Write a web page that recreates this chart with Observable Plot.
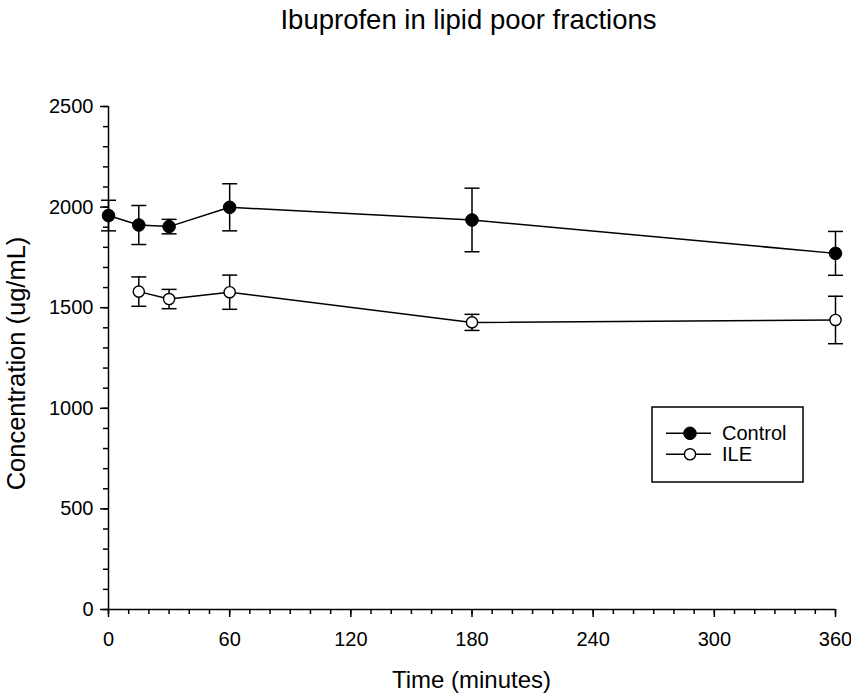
<!DOCTYPE html>
<html>
<head>
<meta charset="utf-8">
<script src="https://cdn.jsdelivr.net/npm/d3@7"></script>
<script src="https://cdn.jsdelivr.net/npm/@observablehq/plot@0.6"></script>
<style>
  body { margin: 0; background: #fff; font-family: "Liberation Sans", Arial, sans-serif; }
  #wrap { position: relative; width: 851px; height: 699px; background: #fff; }
  #title { position: relative; height: 45px; }
  #title span { position: absolute; left: 0; width: 937px; top: 7px; text-align: center;
    font-size: 27.5px; line-height: 26px; color: #000; white-space: nowrap; }
  #chart svg { display: block; }
</style>
</head>
<body>
<div id="wrap">
  <div id="title"><span>Ibuprofen in lipid poor fractions</span></div>
  <div id="chart"></div>
</div>
<script>
// ---- data ----
const controlTimes = [0, 15, 30, 60, 180, 360];
const controlMean  = [1958, 1911, 1903, 1999, 1936, 1770];
const controlErr   = [76, 97, 36, 117, 158, 109];

const ileTimes = [15, 30, 60, 180, 360];
const ileMean  = [1580, 1543, 1577, 1427, 1439];
const ileErr   = [73, 48, 85, 40, 118];

const xTicks = [0, 60, 120, 180, 240, 300, 360];
const xMinorTicks = d3.range(0, 361, 10);
const yTicks = [0, 500, 1000, 1500, 2000, 2500];
const yMinorTicks = d3.range(0, 2501, 100);

const xLabel = "Time (minutes)";
const yLabel = "Concentration (ug/mL)";
const seriesNames = ["Control", "ILE"];

// ---- build rows ----
const controlRows = controlTimes.map((t, i) => ({t, y: controlMean[i], lo: controlMean[i] - controlErr[i], hi: controlMean[i] + controlErr[i]}));
const ileRows = ileTimes.map((t, i) => ({t, y: ileMean[i], lo: ileMean[i] - ileErr[i], hi: ileMean[i] + ileErr[i]}));
const allRows = controlRows.concat(ileRows);

const capSymbol = { draw(ctx, size) { ctx.moveTo(-7.5, 0); ctx.lineTo(7.5, 0); } };

const W = 851, H = 654;
const plot = Plot.plot({
  width: W,
  height: H,
  marginTop: 61,
  marginBottom: 90,
  marginLeft: 108,
  marginRight: 16,
  style: { fontFamily: "Liberation Sans, Arial, sans-serif", fontSize: "20px", color: "black", background: "white", overflow: "visible" },
  x: { domain: [0, 360], label: null },
  y: { domain: [0, 2500], label: null },
  marks: [
    Plot.axisX({ ticks: xMinorTicks, tickSize: 5, tickFormat: () => "", label: null, strokeWidth: 1.5 }),
    Plot.axisX({ ticks: xTicks, tickSize: 8, tickPadding: 14, tickFormat: d => String(d), label: null, strokeWidth: 1.5, fontSize: 20 }),
    Plot.axisY({ ticks: yMinorTicks, tickSize: 5, tickFormat: () => "", label: null, strokeWidth: 1.5 }),
    Plot.axisY({ ticks: yTicks, tickSize: 8, tickPadding: 7, tickFormat: d => String(d), label: null, strokeWidth: 1.5, fontSize: 20 }),
    Plot.ruleY([0], { strokeWidth: 1.5 }),
    Plot.ruleX([0], { strokeWidth: 1.5 }),
    Plot.line(controlRows, { x: "t", y: "y", stroke: "black", strokeWidth: 1.5 }),
    Plot.line(ileRows, { x: "t", y: "y", stroke: "black", strokeWidth: 1.5 }),
    Plot.ruleX(allRows, { x: "t", y1: "lo", y2: "hi", stroke: "black", strokeWidth: 1.5 }),
    Plot.dot(allRows, { x: "t", y: "hi", symbol: capSymbol, fill: "none", stroke: "black", strokeWidth: 1.5 }),
    Plot.dot(allRows, { x: "t", y: "lo", symbol: capSymbol, fill: "none", stroke: "black", strokeWidth: 1.5 }),
    Plot.dot(controlRows, { x: "t", y: "y", r: 6.3, fill: "black", stroke: "black", strokeWidth: 1 }),
    Plot.dot(ileRows, { x: "t", y: "y", r: 5.6, fill: "white", stroke: "black", strokeWidth: 1.4 })
  ]
});
document.getElementById("chart").appendChild(plot);

// ---- axis titles and legend ----
const svg = d3.select(plot);
const xs = plot.scale("x"), ys = plot.scale("y");
const xMid = (xs.range[0] + xs.range[1]) / 2;
const yMid = (ys.range[0] + ys.range[1]) / 2;

svg.append("text")
  .attr("x", xMid).attr("y", ys.range[0] + 79)
  .attr("text-anchor", "middle")
  .attr("font-size", 24).attr("fill", "black")
  .text(xLabel);

svg.append("text")
  .attr("transform", `translate(25,${yMid + 6}) rotate(-90)`)
  .attr("text-anchor", "middle")
  .attr("font-size", 25.5).attr("fill", "black")
  .text(yLabel);

const lg = svg.append("g").attr("transform", "translate(652,362)");
lg.append("rect").attr("width", 151).attr("height", 75)
  .attr("fill", "white").attr("stroke", "black").attr("stroke-width", 1.5);
const legendStyles = [
  { fill: "black", r: 6.3, sw: 1 },
  { fill: "white", r: 5.6, sw: 1.4 }
];
seriesNames.forEach((name, i) => {
  const yy = 26.3 + i * 21;
  lg.append("line").attr("x1", 14).attr("x2", 59).attr("y1", yy).attr("y2", yy)
    .attr("stroke", "black").attr("stroke-width", 1.5);
  lg.append("circle").attr("cx", 38).attr("cy", yy).attr("r", legendStyles[i].r)
    .attr("fill", legendStyles[i].fill).attr("stroke", "black").attr("stroke-width", legendStyles[i].sw);
  lg.append("text").attr("x", 70).attr("y", yy).attr("dy", "0.35em")
    .attr("text-anchor", "start")
    .attr("font-size", 20).attr("fill", "black").text(name);
});
</script>
</body>
</html>
